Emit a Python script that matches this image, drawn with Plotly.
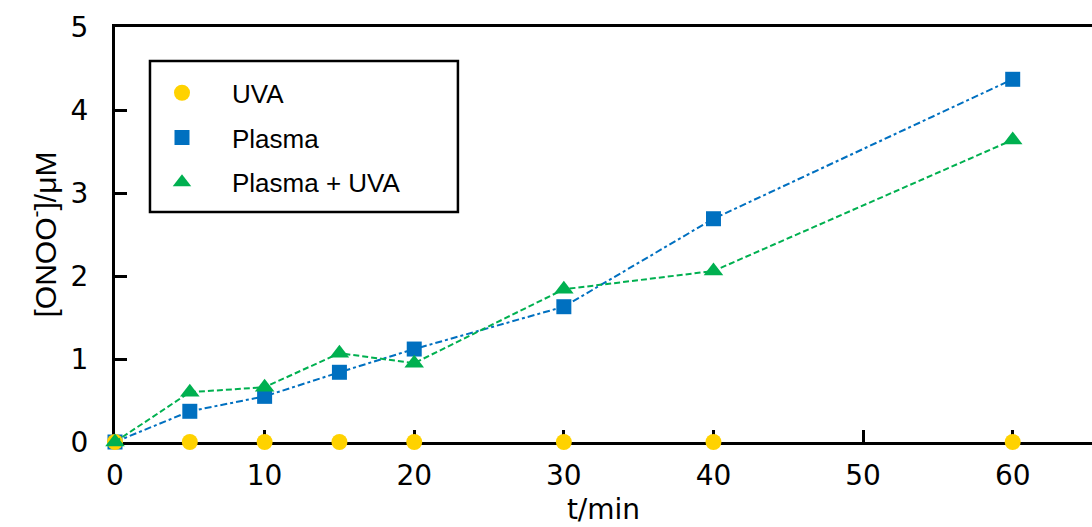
import plotly.graph_objects as go

time_min = [0, 5, 10, 15, 20, 30, 40, 60]
uva = [0, 0, 0, 0, 0, 0, 0, 0]
plasma = [0, 0.37, 0.55, 0.84, 1.12, 1.63, 2.69, 4.37]
plasma_uva = [0, 0.60, 0.66, 1.07, 0.95, 1.84, 2.06, 3.64]

names = ["UVA", "Plasma", "Plasma + UVA"]
colors = {"UVA": "#FFD200", "Plasma": "#0070C0", "Plasma + UVA": "#00B050"}
symbols = {"UVA": "circle", "Plasma": "square", "Plasma + UVA": "triangle-up"}
sizes = {"UVA": 16, "Plasma": 15, "Plasma + UVA": 17}

fig = go.Figure()

# data traces (draw order: Plasma, UVA, Plasma + UVA)
fig.add_trace(go.Scatter(x=time_min, y=plasma, mode="lines+markers", showlegend=False,
                         line=dict(color=colors["Plasma"], width=2, dash="7px,3px,3px,3px"),
                         marker=dict(symbol="square", size=sizes["Plasma"], color=colors["Plasma"]),
                         cliponaxis=False))
fig.add_trace(go.Scatter(x=time_min, y=uva, mode="markers", showlegend=False,
                         marker=dict(symbol="circle", size=sizes["UVA"], color=colors["UVA"]),
                         cliponaxis=False))
fig.add_trace(go.Scatter(x=time_min, y=plasma_uva, mode="lines+markers", showlegend=False,
                         line=dict(color=colors["Plasma + UVA"], width=2, dash="6px,3px"),
                         marker=dict(symbol="triangle-up", size=sizes["Plasma + UVA"], color=colors["Plasma + UVA"]),
                         cliponaxis=False))

# legend entries (markers only)
for i, n in enumerate(names):
    fig.add_trace(go.Scatter(x=[None], y=[None], mode="markers", name=n, legendgroup=n,
                             marker=dict(symbol=symbols[n], size=sizes[n], color=colors[n])))

fig.update_layout(
    width=1092, height=527,
    margin=dict(l=115, r=0, t=27, b=85),
    plot_bgcolor="white", paper_bgcolor="white",
    font=dict(family="DejaVu Sans", size=28, color="black"),
    legend=dict(x=0.0174, y=0.898, xanchor="left", yanchor="top",
                font=dict(family="Liberation Sans, Arial", size=26, color="black"),
                bgcolor="rgba(0,0,0,0)", borderwidth=0, itemwidth=90,
                traceorder="grouped", tracegroupgap=8),
    shapes=[dict(type="rect", xref="paper", yref="paper",
                 x0=0.0358, x1=0.351, y0=0.554, y1=0.918,
                 line=dict(color="black", width=2.5), fillcolor="rgba(0,0,0,0)")],
    xaxis=dict(range=[0, 65.3], tickvals=[0, 10, 20, 30, 40, 50, 60],
               ticks="inside", ticklen=12, tickwidth=2.5, tickcolor="black",
               showline=True, linecolor="black", linewidth=3, mirror=True,
               showgrid=False, zeroline=False, layer="below traces",
               ticklabelstandoff=6,
               title=dict(text="t/min", standoff=9, font=dict(family="DejaVu Sans", size=28))),
    yaxis=dict(range=[0, 5], tickvals=[0, 1, 2, 3, 4, 5],
               ticks="inside", ticklen=12, tickwidth=2.5, tickcolor="black",
               showline=True, linecolor="black", linewidth=3,
               showgrid=False, zeroline=False, layer="below traces",
               ticklabelstandoff=18,
               title=dict(text="[ONOO<sup>-</sup>]/μM", standoff=6,
                          font=dict(family="Liberation Sans, Arial", size=30))),
)

fig.write_html("out.html")
